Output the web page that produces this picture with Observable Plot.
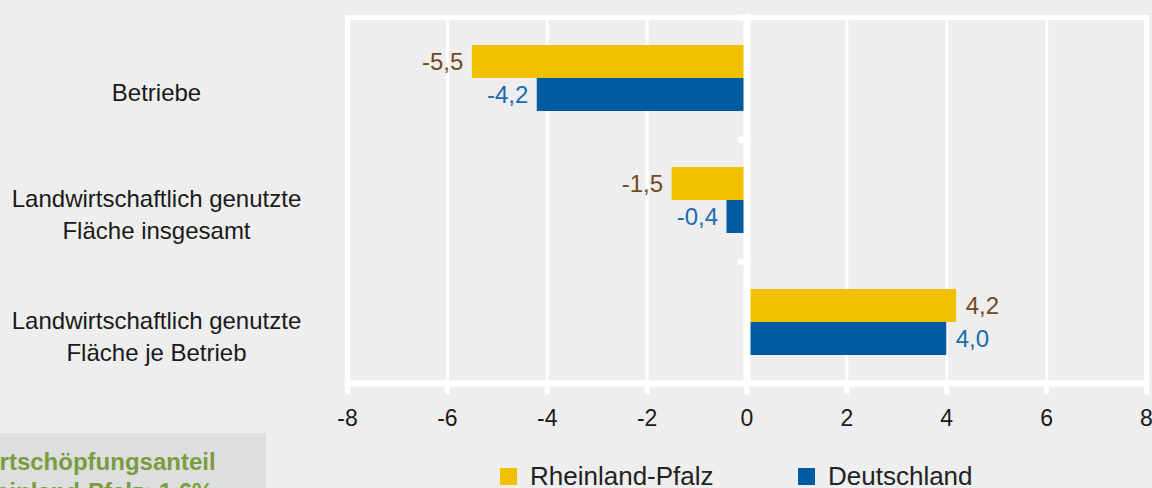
<!DOCTYPE html>
<html>
<head>
<meta charset="utf-8">
<script src="https://cdn.jsdelivr.net/npm/d3@7"></script>
<script src="https://cdn.jsdelivr.net/npm/@observablehq/plot@0.6"></script>
<style>
  html, body { margin: 0; padding: 0; background: #edeeed; width: 1152px; height: 488px; overflow: hidden; }
  #chart svg { display: block; }
  #bottom { position: relative; width: 1152px; height: 56px; font-family: "Liberation Sans", Arial, sans-serif; }
  #note { position: absolute; left: 0; top: 1px; width: 266px; height: 55px; background: #dddede; overflow: hidden; }
  #note div { position: absolute; left: -36px; top: 14px; white-space: nowrap; font-weight: bold; font-size: 24px; line-height: 30px; color: #7a9c3e; }
  .item { position: absolute; top: 31px; height: 26px; line-height: 26px; display: flex; align-items: center; font-size: 26px; color: #222; }
  .item span.sw { display: inline-block; width: 17px; height: 17px; margin-right: 13px; }
</style>
</head>
<body>
<div id="chart"></div>
<div id="bottom">
  <div id="note"><div>Wertschöpfungsanteil<br>Rheinland-Pfalz: 1,6%</div></div>
  <div id="legend"></div>
</div>
<script>
const categories = [
  "Betriebe",
  "Landwirtschaftlich genutzte Fläche insgesamt",
  "Landwirtschaftlich genutzte Fläche je Betrieb"
];
const series = ["Rheinland-Pfalz", "Deutschland"];
const rlpValues = [-5.5, -1.5, 4.2];
const deValues = [-4.2, -0.4, 4.0];
const xTicks = [-8, -6, -4, -2, 0, 2, 4, 6, 8];

const barColors = ["#f1c100", "#005ca1"];
const labelColors = ["#734a20", "#1c6ab0"];

const rows = categories.flatMap((c, i) => [
  {category: c, series: series[0], value: rlpValues[i]},
  {category: c, series: series[1], value: deValues[i]}
]);

const fmt = v => v.toFixed(1).replace(".", ",");

const valueLabels = series.flatMap((s, k) => [
  Plot.text(rows.filter(d => d.series === s && d.value < 0), {
    x: "value", y: "series", fy: "category", text: d => fmt(d.value),
    textAnchor: "end", dx: -9, fill: labelColors[k], fontSize: 24
  }),
  Plot.text(rows.filter(d => d.series === s && d.value >= 0), {
    x: "value", y: "series", fy: "category", text: d => fmt(d.value),
    textAnchor: "start", dx: 9, fill: labelColors[k], fontSize: 24
  })
]);

const chart = Plot.plot({
  width: 1152,
  height: 432,
  marginLeft: 347,
  marginRight: 6,
  marginTop: 16,
  marginBottom: 48,
  style: {background: "transparent", fontFamily: "'Liberation Sans', Arial, sans-serif", fontSize: "24px", color: "#1a1a1a"},
  x: {domain: [-8, 8], label: null},
  y: {domain: series, paddingInner: 0, paddingOuter: 0.84, axis: null},
  fy: {domain: categories, padding: 0, axis: null},
  color: {domain: series, range: barColors},
  marks: [
    Plot.gridX({ticks: xTicks, stroke: "white", strokeWidth: 3, strokeOpacity: 1}),
    Plot.barX(rows, {x: "value", y: "series", fy: "category", fill: "series"}),
    Plot.ruleX([-8, 8], {stroke: "white", strokeWidth: 5}),
    Plot.dot(categories, {fy: d => d, x: () => 0, frameAnchor: "top", dx: -6, r: 3.5, fill: "white", stroke: null}),
    Plot.ruleX([0], {stroke: "white", strokeWidth: 7, strokeLinecap: "round"}),
    Plot.frame({anchor: "top", facetAnchor: "top", stroke: "white", strokeWidth: 5}),
    Plot.frame({anchor: "bottom", facetAnchor: "bottom", stroke: "white", strokeWidth: 6}),
    Plot.axisX({
      ticks: xTicks, tickFormat: d => String(d), tickSize: 9, tickPadding: 17, label: null,
      stroke: "white", strokeWidth: 5, strokeLinecap: "round", strokeOpacity: 1,
      fill: "#1a1a1a", fontSize: 23
    }),
    Plot.text(categories, {
      fy: d => d, text: d => d.replace(" genutzte ", " genutzte\n"),
      frameAnchor: "left", dx: -191, dy: 12, textAnchor: "middle", lineAnchor: "middle",
      lineHeight: 1.35, fill: "#1a1a1a", fontSize: 24
    }),
    ...valueLabels
  ]
});
document.getElementById("chart").appendChild(chart);

const legend = document.getElementById("legend");
const legendX = [500, 798];
series.forEach((s, k) => {
  const item = document.createElement("div");
  item.className = "item";
  item.style.left = legendX[k] + "px";
  const sw = document.createElement("span");
  sw.className = "sw";
  sw.style.background = barColors[k];
  item.appendChild(sw);
  item.appendChild(document.createTextNode(s));
  legend.appendChild(item);
});
</script>
</body>
</html>
